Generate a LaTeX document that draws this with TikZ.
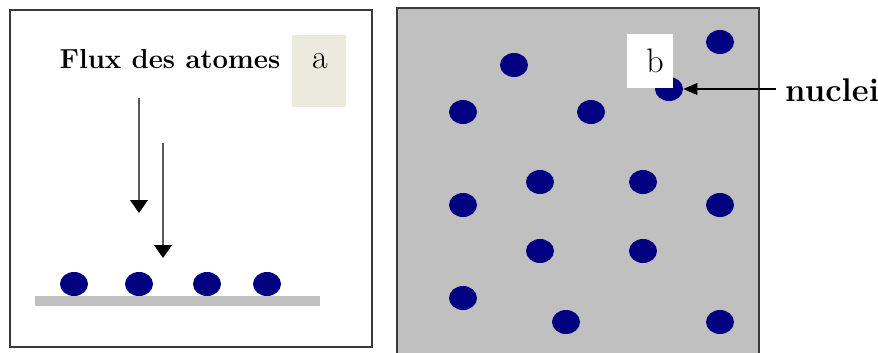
\documentclass[tikz,border=0pt]{standalone}
\usepackage{fontspec}
\usepackage{tikz}
\usetikzlibrary{arrows.meta,shapes.geometric,positioning}
\definecolor{nucnavy}  {HTML}{000080}
\definecolor{tagtan}   {HTML}{ECE9DF}
\definecolor{filmgray} {HTML}{C0C0C0}
\definecolor{framegray}{HTML}{3A3A3A}

\begin{document}
\begin{tikzpicture}[x=0.03cm, y=-0.03cm,
    dot/.style={ellipse, fill=nucnavy, inner sep=0pt,
                minimum width=0.84cm, minimum height=0.72cm},
    tagbox/.style={inner sep=0pt},
    tagtext/.style={font=\fontsize{29}{33}\selectfont, inner sep=0pt},
    flux/.style={draw=gray!70!black, line width=1.3pt,
                 -{Triangle[color=black, width=15pt, length=11pt]}},
  ]
  \clip (0,0) rectangle (878,352);

  % panel a
  \draw[framegray, line width=1pt] (10,10) rectangle (372,347);
  \node[tagbox, fill=tagtan, minimum width=1.62cm, minimum height=2.16cm]
    (boxa) at (319,71) {};
  \node[tagtext] (taga) at (320,61) {a};
  \node[font=\fontsize{23.5}{27}\selectfont\bfseries, inner sep=0pt]
    (fluxlabel) at (170,59) {Flux des atomes};

  \fill[filmgray] (35,296) rectangle (320,306);
  \foreach \x [count=\i] in {74,139,207,267}
    \node[dot] (a\i) at (\x,284) {};

  \coordinate (f1s) at (139,98);  \coordinate (f1e) at (139,213);
  \coordinate (f2s) at (163,143); \coordinate (f2e) at (163,258);
  \draw[flux] (f1s) -- (f1e);
  \draw[flux] (f2s) -- (f2e);

  % panel b
  \draw[framegray, line width=1pt, fill=filmgray] (397,8) rectangle (759,360);
  \foreach \x/\y [count=\i] in {720/42, 514/65, 463/112, 591/112, 669/89,
      540/182, 643/182, 463/205, 720/205, 540/251, 643/251,
      463/298, 566/322, 720/322}
    \node[dot] (b\i) at (\x,\y) {};
  \node[tagbox, fill=white, minimum width=1.38cm, minimum height=1.62cm]
    (boxb) at (650,61) {};
  \node[tagtext] (tagb) at (655,61) {b};

  \node[font=\fontsize{28}{32}\selectfont\bfseries, inner sep=0pt, anchor=west]
    (nuclei) at (785,90) {nuclei};
  \draw[black, line width=1pt, -{Triangle[width=10pt, length=12pt]},
        shorten <=8pt] (nuclei.west |- b5.east) -- (b5.east);
\end{tikzpicture}
\end{document}
